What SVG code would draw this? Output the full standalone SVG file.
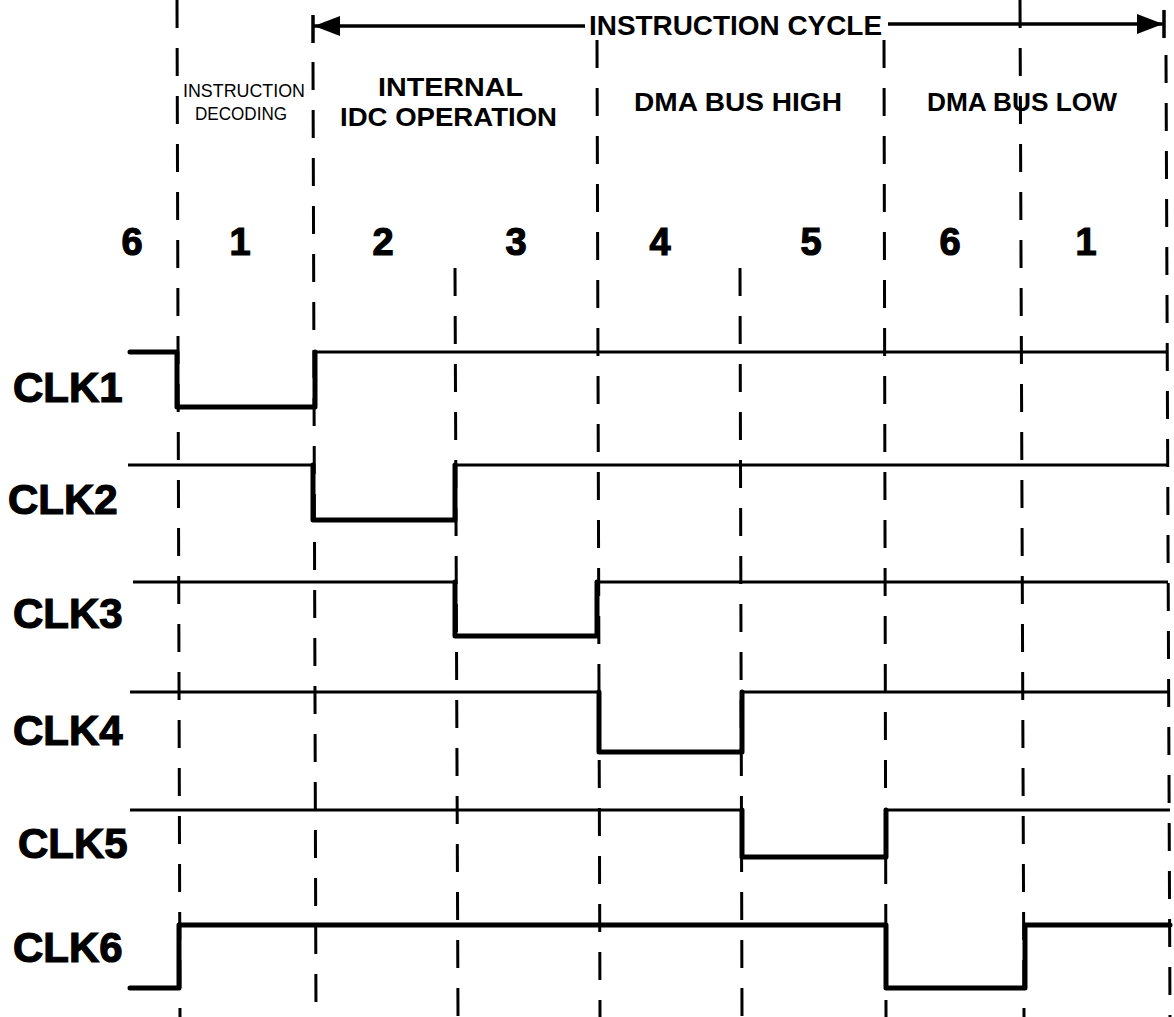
<svg xmlns="http://www.w3.org/2000/svg" width="1174" height="1017" viewBox="0 0 1174 1017">
<style>
.bg{fill:#fff}
.dash{stroke:#000;stroke-width:3;stroke-dasharray:28 20;fill:none}
.solid{stroke:#000;stroke-width:3.5;fill:none}
.sig{stroke:#000;stroke-width:3;fill:none;stroke-linejoin:round}
.pulse{stroke:#000;stroke-width:5;fill:none;stroke-linejoin:round;stroke-linecap:round}
.t{font-family:"Liberation Sans",Arial,Helvetica,sans-serif;font-weight:bold;fill:#000}
.heavy{stroke:#000;stroke-width:1.2}
.clk{font-size:42px}
.num{font-size:38px;text-anchor:middle}
.hd{font-size:26px}
.sm{font-size:18px;font-weight:normal}
</style>
<defs>
<marker id="ah" viewBox="0 0 10 10" refX="10" refY="5" markerUnits="userSpaceOnUse" markerWidth="26" markerHeight="20" preserveAspectRatio="none" orient="auto">
<path d="M0,0 L10,5 L0,10 z" fill="#000"/>
</marker>
</defs>
<rect class="bg" x="0" y="0" width="1174" height="1017"/>

<g id="connectors">
<g id="gridlines">
<path class="dash" d="M177,0 L180,1017"/>
<path class="solid" d="M313,15 V43"/>
<path class="dash" d="M313,62 L316,1017"/>
<path class="dash" d="M455,268 L458,1017"/>
<path class="dash" d="M597,40 L600,1017"/>
<path class="dash" d="M740,268 L742,1017"/>
<path class="dash" d="M884,40 L886,1017"/>
<path class="dash" d="M1020,0 L1024,1017"/>
<path class="solid" d="M1164,10 V38"/>
<path class="dash" d="M1166,55 L1170,1017"/>
</g>
<g id="cycle-arrow">
<line class="solid" x1="585" y1="26" x2="314" y2="26" stroke-width="2.5" marker-end="url(#ah)"/>
<line class="solid" x1="888" y1="24" x2="1163" y2="24" stroke-width="2.5" marker-end="url(#ah)"/>
</g>
</g>

<g id="cycle-label"><text class="t" x="589" y="35" font-size="28" textLength="293" lengthAdjust="spacingAndGlyphs">INSTRUCTION CYCLE</text></g>
<g id="phase-decoding">
<text class="t sm" x="183" y="97" textLength="122" lengthAdjust="spacingAndGlyphs">INSTRUCTION</text>
<text class="t sm" x="195" y="120" textLength="92" lengthAdjust="spacingAndGlyphs">DECODING</text>
</g>
<g id="phase-internal">
<text class="t hd" x="378" y="96" textLength="145" lengthAdjust="spacingAndGlyphs">INTERNAL</text>
<text class="t hd" x="340" y="126" textLength="217" lengthAdjust="spacingAndGlyphs">IDC OPERATION</text>
</g>
<g id="phase-dma-high"><text class="t hd" x="634" y="111" textLength="208" lengthAdjust="spacingAndGlyphs">DMA BUS HIGH</text></g>
<g id="phase-dma-low"><text class="t hd" x="927" y="111" textLength="190" lengthAdjust="spacingAndGlyphs">DMA BUS LOW</text></g>

<g id="states">
<text class="t num heavy" x="132" y="255">6</text>
<text class="t num heavy" x="240" y="255">1</text>
<text class="t num heavy" x="383" y="255">2</text>
<text class="t num heavy" x="516" y="255">3</text>
<text class="t num heavy" x="660" y="255">4</text>
<text class="t num heavy" x="811" y="255">5</text>
<text class="t num heavy" x="950" y="255">6</text>
<text class="t num heavy" x="1086" y="255">1</text>
</g>

<g id="clk1">
<text class="t clk heavy" x="13" y="402">CLK1</text>
<path class="pulse" d="M130,352 H177 V407 H315 V352"/>
<path class="sig" d="M315,352 H1168"/>
</g>
<g id="clk2">
<text class="t clk heavy" x="8" y="514">CLK2</text>
<path class="sig" d="M128,465 H313"/>
<path class="pulse" d="M313,465 V520 H455 V465"/>
<path class="sig" d="M455,465 H1168"/>
</g>
<g id="clk3">
<text class="t clk heavy" x="13" y="628">CLK3</text>
<path class="sig" d="M133,582 H455"/>
<path class="pulse" d="M455,582 V636 H597 V582"/>
<path class="sig" d="M597,582 H1168"/>
</g>
<g id="clk4">
<text class="t clk heavy" x="13" y="745">CLK4</text>
<path class="sig" d="M130,692 H599"/>
<path class="pulse" d="M599,692 V752 H742 V692"/>
<path class="sig" d="M742,692 H1170"/>
</g>
<g id="clk5">
<text class="t clk heavy" x="18" y="858">CLK5</text>
<path class="sig" d="M130,810 H742"/>
<path class="pulse" d="M742,810 V857 H886 V810"/>
<path class="sig" d="M886,810 H1170"/>
</g>
<g id="clk6">
<text class="t clk heavy" x="13" y="962">CLK6</text>
<path class="pulse" d="M130,988 H179 V925 H886 V988 H1025 V925 H1170"/>
</g>
</svg>
